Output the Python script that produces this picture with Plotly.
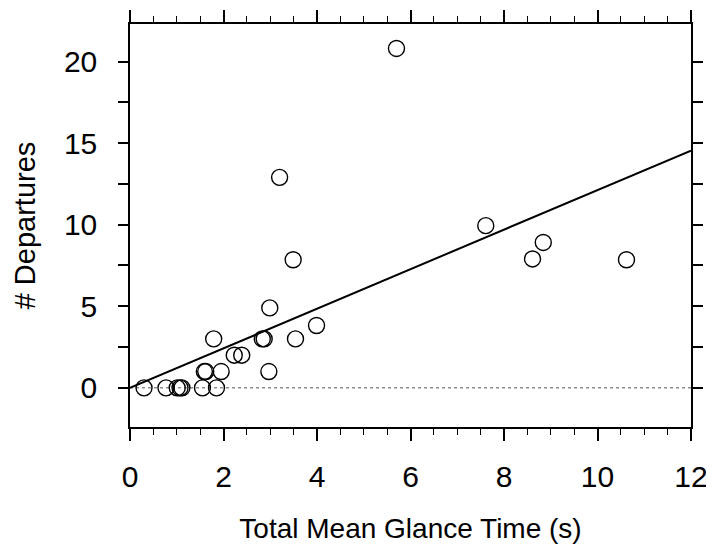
import numpy as np
import plotly.graph_objects as go

# Data
glance_time = [0.30, 0.77, 1.01, 1.07, 1.11, 1.55, 1.85,
               1.59, 1.62, 1.95, 2.97,
               2.23, 2.39,
               1.79, 2.83, 2.87, 3.54,
               3.99, 2.99, 3.49, 3.20, 5.70,
               7.61, 8.61, 8.84, 10.62]
departures = [0, 0, 0, 0, 0, 0, 0,
              1, 1, 1, 1,
              2, 2,
              3, 3, 3, 3,
              3.82, 4.9, 7.85, 12.9, 20.8,
              9.94, 7.9, 8.91, 7.85]

x_ticks = [0, 2, 4, 6, 8, 10, 12]
y_ticks = [0, 5, 10, 15, 20]

x_title = "Total Mean Glance Time (s)"
y_title = "# Departures"

# Regression line through the origin, fitted to the data
xa = np.array(glance_time)
ya = np.array(departures)
slope = float((xa * ya).sum() / (xa * xa).sum())
line_x = [x_ticks[0], x_ticks[-1]]
line_y = [slope * v for v in line_x]

FONT = "Liberation Sans, Arial, Helvetica, sans-serif"

fig = go.Figure()
fig.add_hline(y=0, line=dict(color="#555", width=1, dash="dot"), layer="below")
fig.add_trace(go.Scatter(x=line_x, y=line_y, mode="lines",
                         line=dict(color="black", width=2), showlegend=False,
                         cliponaxis=False))
fig.add_trace(go.Scatter(x=glance_time, y=departures, mode="markers",
                         marker=dict(symbol="circle-open", size=16, color="black",
                                     line=dict(width=1.4, color="black")),
                         showlegend=False))

# The page body adds an 8px margin, so the figure is offset by 8px
fig.update_layout(
    width=706, height=536,
    margin=dict(l=122, r=23, t=16, b=117),
    paper_bgcolor="white", plot_bgcolor="white",
    font=dict(family=FONT, color="black", size=28),
    xaxis=dict(range=[0, 12], tickvals=x_ticks, ticks="outside", ticklen=12,
               tickwidth=1.5, tickcolor="black", showline=True, linecolor="black",
               linewidth=1.5, mirror="ticks", showgrid=False, zeroline=False,
               automargin=False, ticklabeloverflow="allow",
               tickfont=dict(size=30), ticklabelstandoff=10,
               minor=dict(dtick=0.5, ticks="outside", ticklen=6, tickwidth=1.2,
                          tickcolor="black", showgrid=False),
               title=dict(text=x_title, font=dict(size=28), standoff=35)),
    yaxis=dict(range=[-2.4, 22.3], tickvals=y_ticks, ticks="outside", ticklen=10,
               tickwidth=1.5, tickcolor="black", showline=True, linecolor="black",
               linewidth=1.5, mirror="ticks", showgrid=False, zeroline=False,
               automargin=False,
               tickfont=dict(size=30), ticklabelstandoff=15,
               minor=dict(dtick=2.5, ticks="outside", ticklen=10, tickwidth=1.5,
                          tickcolor="black", showgrid=False),
               title=dict(text=y_title, font=dict(size=29), standoff=20)),
)

fig.write_html("out.html")
